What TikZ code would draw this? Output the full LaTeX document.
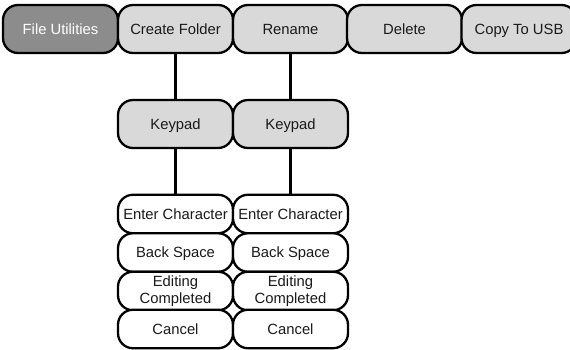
\documentclass[tikz,border=0pt]{standalone}
\usepackage{fontspec}
\setmainfont{Liberation Sans}
\definecolor{boxfill}{HTML}{D9D9D9}
\definecolor{darkfill}{HTML}{8C8C8C}
\definecolor{txt}{HTML}{1A1A1A}
\begin{document}
\begin{tikzpicture}[x=1pt,y=1pt,
  base/.style={draw=black, line width=2.3pt, rounded corners=15pt, minimum width=115pt, inner sep=0pt,
    font=\fontsize{14.8}{17}\selectfont, text=txt, align=center},
  one/.style={text height=10.6pt, text depth=0pt},
  topbox/.style={base, one, fill=boxfill, minimum height=48pt},
  topsel/.style={base, one, fill=darkfill, text=white, minimum height=48pt},
  keybox/.style={base, one, fill=boxfill, minimum height=48pt},
  itembox/.style={base, one, fill=white, minimum height=38.5pt},
  itemtwo/.style={base, fill=white, minimum height=38.5pt},
  link/.style={draw=black, line width=2.3pt}]
\useasboundingbox (0,0) rectangle (570,-349);
\begin{scope}
\clip (0,0) rectangle (570,-349);
\node[topsel] (fu) at (60.5,-29) {File Utilities};
\node[topbox] (cf) at (175.5,-29) {Create Folder};
\node[topbox] (rn) at (290.5,-29) {Rename};
\node[topbox] (dl) at (404.5,-29) {Delete};
\node[topbox] (cu) at (519,-29) {Copy To USB};
\node[keybox] (k1) at (175.5,-124) {Keypad};
\node[keybox] (k2) at (290.5,-124) {Keypad};
\node[itembox] (e1) at (175.5,-214) {Enter Character};
\node[itembox] (b1) at (175.5,-252.5) {Back Space};
\node[itemtwo] (c1) at (175.5,-291) {Editing\\Completed};
\node[itembox] (x1) at (175.5,-329) {Cancel};
\node[itembox] (e2) at (290.5,-214) {Enter Character};
\node[itembox] (b2) at (290.5,-252.5) {Back Space};
\node[itemtwo] (c2) at (290.5,-291) {Editing\\Completed};
\node[itembox] (x2) at (290.5,-329) {Cancel};
\draw[link] (cf.south) -- (k1.north);
\draw[link] (k1.south) -- (e1.north);
\draw[link] (rn.south) -- (k2.north);
\draw[link] (k2.south) -- (e2.north);
\end{scope}
\end{tikzpicture}
\end{document}
